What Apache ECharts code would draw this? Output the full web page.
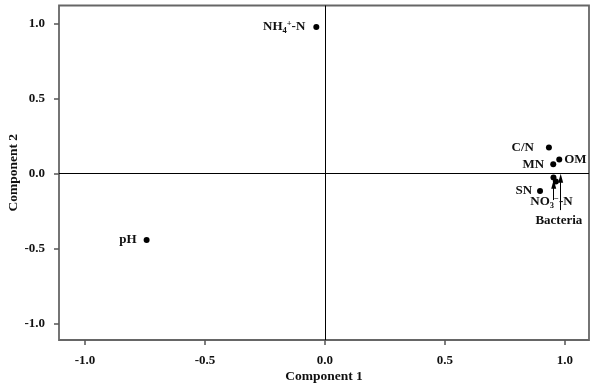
<!DOCTYPE html>
<html>
<head>
<meta charset="utf-8">
<script src="https://cdn.jsdelivr.net/npm/echarts@6/dist/echarts.min.js"></script>
<style>html,body{margin:0;padding:0;background:#fff}#c{width:590px;height:385px}</style>
</head>
<body>
<div id="c"></div>
<script>
// ---- data ----
const variables = ['NH4+-N', 'pH', 'C/N', 'OM', 'MN', 'SN', 'NO3--N', 'Bacteria'];
const component1 = [-0.036, -0.743, 0.933, 0.976, 0.951, 0.896, 0.952, 0.962];
const component2 = [0.975, -0.445, 0.173, 0.093, 0.060, -0.118, -0.028, -0.055];
const xTicks = [-1.0, -0.5, 0.0, 0.5, 1.0];
const yTicks = [-1.0, -0.5, 0.0, 0.5, 1.0];
// annotation arrows: [x, yFrom, yTo]
const arrowNO3 = [0.953, -0.178, -0.072];
const arrowBacteria = [0.982, -0.245, -0.033];

// ---- styling ----
const FONT = '"Liberation Serif", "Times New Roman", serif';
const TXT = '#111';
const richLabels = {
  'NH4+-N': 'NH{s|4}{p|+}-N',
  'NO3--N': 'NO{s|3}{p|\u2212}-N'
};
const placement = {
  'NH4+-N': {position: 'left', distance: 8},
  'pH': {position: 'left', distance: 7},
  'C/N': {position: 'left', distance: 12},
  'OM': {position: 'right', distance: 2},
  'MN': {position: 'left', distance: 6},
  'SN': {position: 'left', distance: 5},
  'NO3--N': {position: 'inside', offset: [-2, 24.5]},
  'Bacteria': {position: 'inside', offset: [3, 39]}
};
const rich = {
  n: {fontSize: 13, fontWeight: 'bold', fontFamily: FONT, color: TXT, lineHeight: 16},
  s: {fontSize: 8.5, fontWeight: 'bold', fontFamily: FONT, color: TXT, lineHeight: 9, verticalAlign: 'bottom'},
  p: {fontSize: 8.5, fontWeight: 'bold', fontFamily: FONT, color: TXT, lineHeight: 9, verticalAlign: 'top'}
};

const points = variables.map((name, i) => {
  const pl = placement[name];
  const txt = richLabels[name] ? richLabels[name].replace(/^([^{]+)/, '{n|$1}').replace(/\}([^{}]+)$/, '}{n|$1}') : '{n|' + name + '}';
  return {
    name: name,
    value: [component1[i], component2[i]],
    label: Object.assign({show: true, formatter: txt, rich: rich, align: 'center', verticalAlign: 'middle'}, pl,
      pl.position === 'left' ? {align: 'right'} : pl.position === 'right' ? {align: 'left'} : {})
  };
});

const arrowItem = (a) => [
  {coord: [a[0], a[1]], symbol: 'none'},
  {coord: [a[0], a[2]], symbol: 'triangle', symbolSize: [5, 9]}
];

const axisCommon = {
  type: 'value',
  splitLine: {show: false},
  axisLine: {show: false, onZero: false},
  axisTick: {show: true, length: 5, lineStyle: {color: '#555', width: 1.5}},
  axisLabel: {color: TXT, fontFamily: FONT, fontWeight: 'bold', fontSize: 13, margin: 14,
    formatter: v => v.toFixed(1)},
  nameLocation: 'middle',
  nameMoveOverlap: false,
  nameTextStyle: {color: TXT, fontFamily: FONT, fontWeight: 'bold', fontSize: 13.5}
};

const chart = echarts.init(document.getElementById('c'), null, {renderer: 'canvas'});
chart.setOption({
  animation: false,
  backgroundColor: '#fff',
  grid: {left: 59, right: 1, top: 5.5, bottom: 45, containLabel: false, outerBoundsMode: 'none',
    show: true, borderColor: '#666', borderWidth: 1.8},
  xAxis: Object.assign({}, axisCommon, {
    min: -1.108, max: 1.1, name: 'Component 1', nameGap: 30,
    axisTick: Object.assign({}, axisCommon.axisTick, {customValues: xTicks}),
    axisLabel: Object.assign({}, axisCommon.axisLabel, {customValues: xTicks})
  }),
  yAxis: Object.assign({}, axisCommon, {
    min: -1.111, max: 1.119, name: 'Component 2', nameGap: 38,
    axisTick: Object.assign({}, axisCommon.axisTick, {customValues: yTicks}),
    axisLabel: Object.assign({}, axisCommon.axisLabel, {customValues: yTicks})
  }),
  series: [{
    type: 'scatter',
    symbol: 'circle',
    symbolSize: 6,
    itemStyle: {color: '#000', opacity: 1},
    z: 5,
    data: points,
    markLine: {
      silent: true,
      symbol: 'none',
      label: {show: false},
      lineStyle: {color: '#000', width: 1, type: 'solid', opacity: 1},
      data: [
        {xAxis: 0},
        {yAxis: 0},
        arrowItem(arrowNO3),
        arrowItem(arrowBacteria)
      ]
    }
  }]
});
</script>
</body>
</html>
